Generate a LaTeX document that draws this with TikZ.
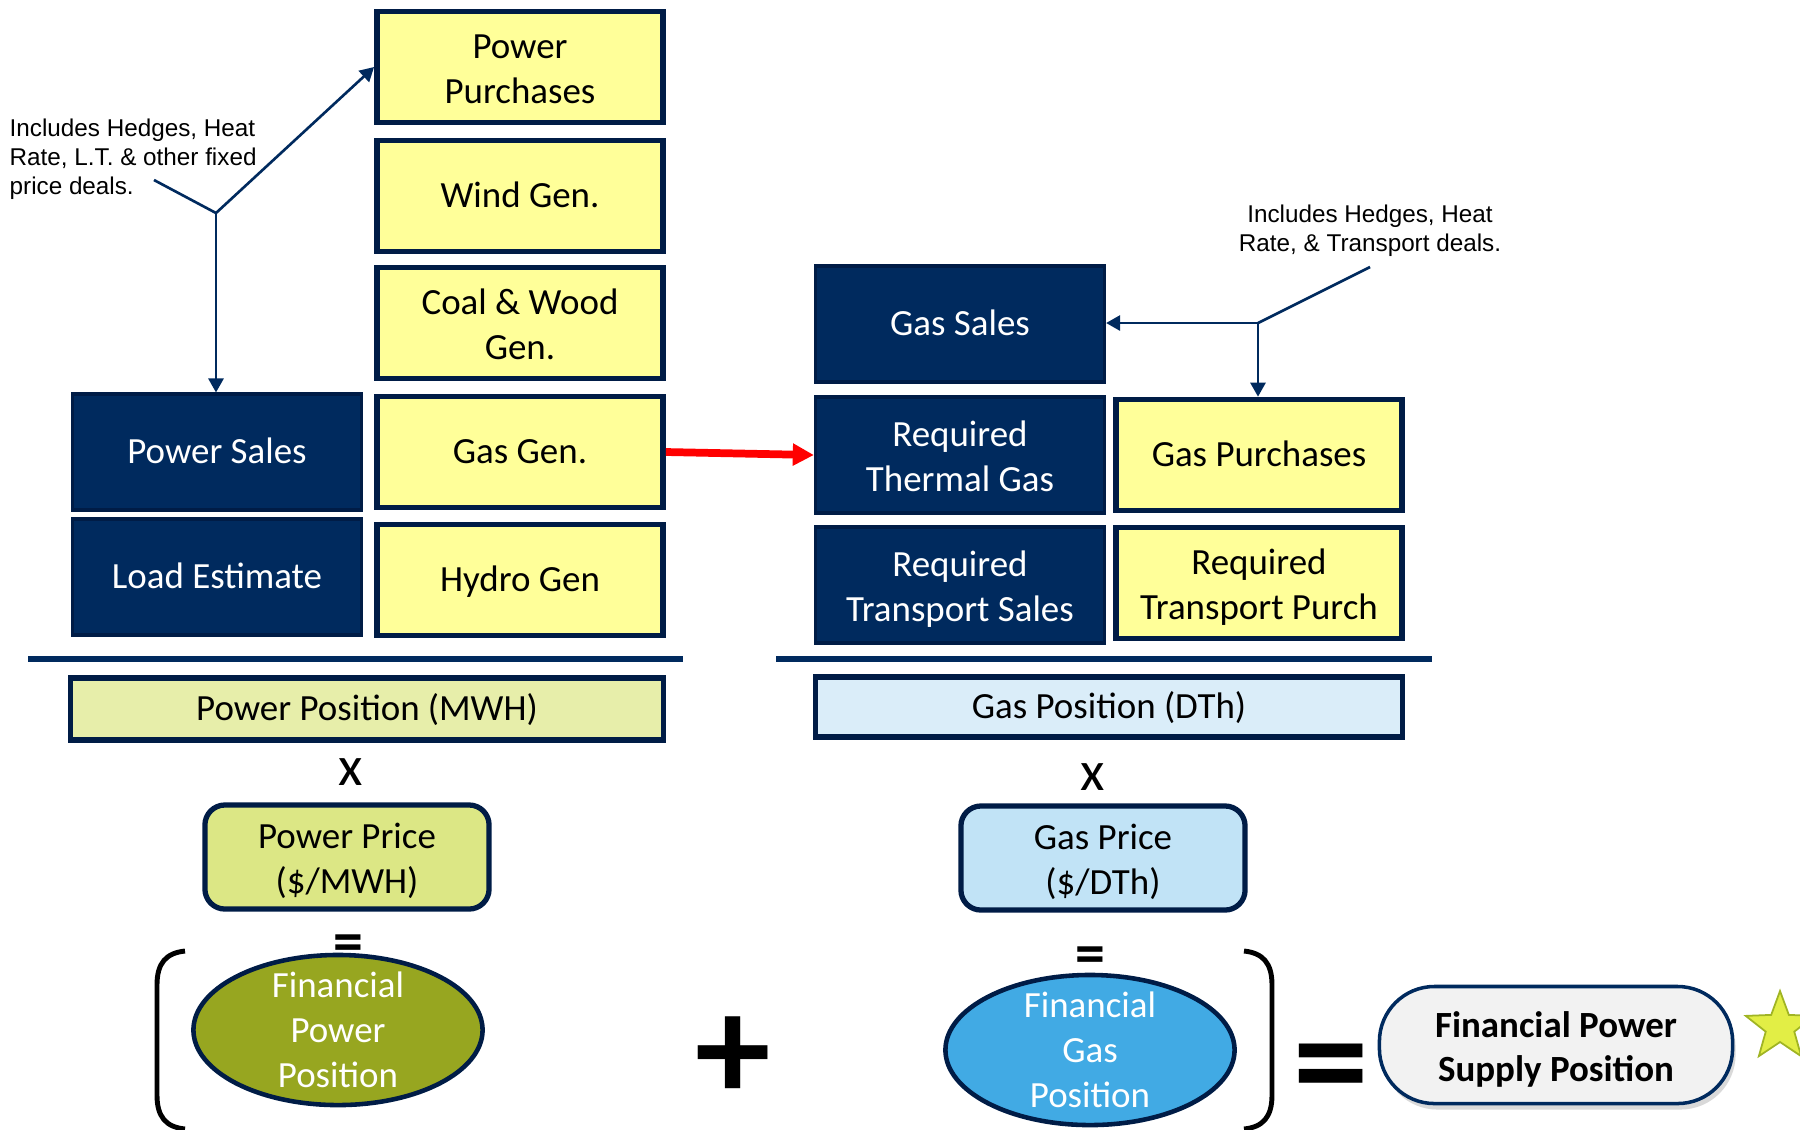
\documentclass[tikz,border=0pt]{standalone}
\usepackage{fontspec}
\setmainfont{Carlito}
\newfontfamily\notefont{Liberation Sans}
\usepackage{tikz}
\usetikzlibrary{positioning}
\usetikzlibrary{shapes.geometric}
\usetikzlibrary{shadows}
\usepgflibrary{arrows.meta}
\usepackage{xcolor}
\definecolor{navy}{HTML}{002A5E}
\definecolor{navyedge}{HTML}{001C46}
\definecolor{genyellow}{HTML}{FFFF99}
\definecolor{powerpos}{HTML}{E7EEAA}
\definecolor{powerprice}{HTML}{DCE785}
\definecolor{gaspos}{HTML}{DAEDF9}
\definecolor{gasprice}{HTML}{C1E3F6}
\definecolor{powerolive}{HTML}{97A620}
\definecolor{gasblue}{HTML}{41AAE4}
\definecolor{resultgray}{HTML}{F2F2F2}
\definecolor{starfill}{HTML}{E2EE45}
\definecolor{staredge}{HTML}{A0B424}

\begin{document}
\begin{tikzpicture}[x=0.01cm, y=-0.01cm,
    boxtext/.style={font=\fontsize{10.5}{12.8}\selectfont, align=center, inner sep=0pt},
    oneline/.style={text height=0.9em, text depth=0.26em},
    twolines/.style={text height=23.6pt, text depth=2.73pt},
    salesbox/.style={boxtext, draw=navyedge, line width=1pt, fill=navy, text=white, minimum width=2.885cm, minimum height=1.155cm},
    genbox/.style={boxtext, draw=navyedge, line width=1.6pt, fill=genyellow, text=black, minimum width=2.86cm, minimum height=1.11cm},
    posbox/.style={boxtext, oneline, draw=navyedge, line width=1.5pt},
    pricebox/.style={boxtext, twolines, draw=navyedge, line width=1.5pt, rounded corners=0.2cm, minimum width=2.84cm, minimum height=1.04cm},
    resultoval/.style={ellipse, draw=navyedge, line width=1.3pt, inner sep=0pt, minimum width=2.89cm, minimum height=1.5cm},
    ovaltext/.style={boxtext, text=white},
    opsign/.style={inner sep=0pt, font=\fontsize{17}{17}\selectfont\bfseries},
    timessign/.style={inner sep=0pt, font=\fontsize{16}{16}\selectfont},
    bigsign/.style={inner sep=0pt, font=\fontsize{43}{43}\selectfont\bfseries},
    notetext/.style={font=\notefont\fontsize{6.9}{8.2}\selectfont, inner sep=0pt},
    noteline/.style={draw=navy, line width=0.75pt},
    notearrow/.style={noteline, -{Triangle[width=4.3pt, length=4pt]}},
    splitline/.style={draw=navy, line width=1.7pt},
    bracketline/.style={draw=black, line width=1.4pt}]
    \useasboundingbox (0, 0) rectangle (1800, 1129);

    \node[genbox, twolines] (purchases) at (520, 67) {Power\\Purchases};
    \node[genbox, oneline] (wind) at (520, 196) {Wind Gen.};
    \node[genbox, twolines] (coalwood) at (520, 323) {Coal \& Wood\\Gen.};
    \node[genbox, oneline] (gasgen) at (520, 452) {Gas Gen.};
    \node[genbox, oneline] (hydro) at (520, 580) {Hydro Gen};
    \node[salesbox, oneline] (powersales) at (217, 452) {Power Sales};
    \node[salesbox, oneline] (load) at (217, 577) {Load Estimate};

    \node[salesbox, oneline] (gassales) at (960, 324) {Gas Sales};
    \node[salesbox, twolines] (thermal) at (960, 455) {Required\\Thermal Gas};
    \node[salesbox, twolines] (transsales) at (960, 585) {Required\\Transport Sales};
    \node[genbox, oneline] (gaspurch) at (1259, 455) {Gas Purchases};
    \node[genbox, twolines] (transpurch) at (1259, 583) {Required\\Transport Purch};

    \path[splitline] (28, 659) -- (683, 659);
    \path[splitline] (776, 659) -- (1432, 659);

    \node[posbox, fill=powerpos, minimum width=5.92cm, minimum height=0.62cm] (powerpos) at (367, 709) {Power Position (MWH)};
    \node[posbox, fill=gaspos, minimum width=5.86cm, minimum height=0.60cm] (gaspos) at (1109, 707) {Gas Position (DTh)};

    \node[timessign] (powertimes) at (351, 772) {x};
    \node[timessign] (gastimes) at (1093, 777) {x};
    \node[pricebox, fill=powerprice] (powerprice) at (347, 857) {Power Price\\(\$/MWH)};
    \node[pricebox, fill=gasprice] (gasprice) at (1103, 858) {Gas Price\\(\$/DTh)};
    \node[opsign] (powereq) at (348, 948) {=};
    \node[opsign] (gaseq) at (1090, 960) {=};

    \node[resultoval, fill=powerolive] (finpower) at (338, 1030) {};
    \node[ovaltext] (finpowertext) at (finpower.center) {Financial\\Power\\Position};
    \node[resultoval, fill=gasblue] (fingas) at (1090, 1050) {};
    \node[ovaltext] (fingastext) at (fingas.center) {Financial\\Gas\\Position};

    \path[bracketline] (185, 951) .. controls (166, 953) and (157, 963) .. (157, 985) -- (157, 1095) .. controls (157, 1117) and (166, 1127) .. (185, 1129);
    \path[bracketline] (1244, 951) .. controls (1263, 953) and (1272, 963) .. (1272, 985) -- (1272, 1095) .. controls (1272, 1117) and (1263, 1127) .. (1244, 1129);
    \node[bigsign] (plus) at (733, 1059) {+};
    \node[bigsign] (totaleq) at (1331, 1078) {=};

    \node[boxtext, twolines, font=\fontsize{10.5}{12.5}\selectfont\bfseries, draw=navy, line width=1pt, fill=resultgray, rounded corners=0.55cm, minimum width=3.53cm, minimum height=1.17cm, drop shadow={shadow xshift=0.03cm, shadow yshift=-0.06cm, opacity=0.25, fill=black!60}] (supply) at (1556, 1045) {Financial Power\\Supply Position};
    \node[star, star points=5, star point ratio=2.4, fill=starfill, draw=staredge, line width=0.5pt, minimum size=0.72cm, inner sep=0pt] (goldstar) at (1780, 1027) {};

    \node[notetext, align=left, anchor=west] (powernote) at (9, 159) {Includes Hedges, Heat\\Rate, L.T. \& other fixed\\price deals.};
    \coordinate (powernotetail) at (154, 180);
    \coordinate (powerfork) at (216, 213);
    \path[noteline] (powernotetail) -- (powerfork);
    \path[notearrow] (powerfork) -- (purchases.west);
    \path[notearrow] (powerfork) -- (powerfork |- powersales.north);

    \node[notetext, align=center] (gasnote) at (1370, 231) {Includes Hedges, Heat\\Rate, \& Transport deals.};
    \coordinate (gasnotetail) at (1370, 267);
    \coordinate (gasfork) at (1258, 323);
    \path[noteline] (gasnotetail) -- (gasfork);
    \path[notearrow] (gasfork) -- (gasfork -| gassales.east);
    \path[notearrow] (gasfork) -- (gasfork |- gaspurch.north);

    \path[draw=red, line width=2.2pt, -{Triangle[width=6pt, length=6pt]}] (gasgen.east) -- (thermal.west);
  \end{tikzpicture}
\end{document}
